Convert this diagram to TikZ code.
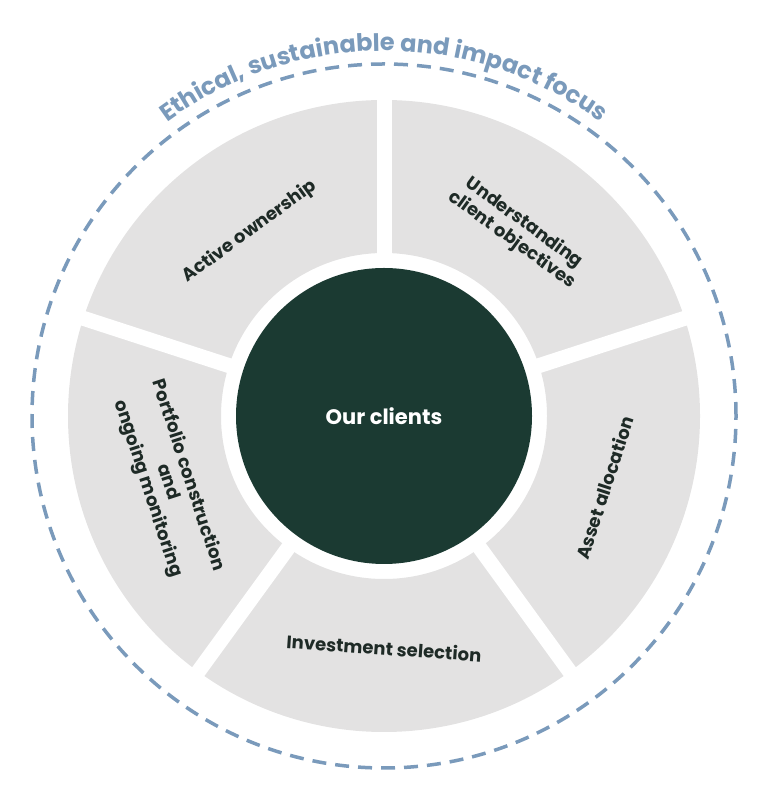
\documentclass[tikz,border=0pt]{standalone}
\usepackage{fontspec}
\setmainfont{Poppins}
\usetikzlibrary{decorations.text,calc}
\definecolor{segfill}{HTML}{E3E2E2}
\definecolor{core}{HTML}{1B3A32}
\definecolor{ring}{HTML}{7A9ABB}
\definecolor{segtext}{HTML}{1E2A26}
\tikzset{
  seglabel/.style={font=\fontsize{18}{21}\selectfont\bfseries, text=segtext, align=center},
}
\begin{document}
\begin{tikzpicture}[x=1pt,y=1pt]
\useasboundingbox (0,0) rectangle (768,797);
\coordinate (c) at (384,381);
% ring
\fill[segfill,even odd rule] (c) circle[radius=316] (c) circle[radius=163];
\foreach \a in {90,18,-54,-126,162}{
  \draw[white,line width=15] (c) -- ++(\a:330);
}
% core
\node[circle,fill=core,minimum size=296,inner sep=0,text=white,font=\fontsize{21}{22}\selectfont\bfseries] (core) at (c) {Our clients};
% dashed circle
\draw[ring,line width=3.5,dash pattern=on 14 off 9] (c) circle[radius=352];
% curved title
\path[decorate,decoration={text along path,text align=center,text color=ring,
  text={|\fontsize{24}{26}\selectfont\bfseries|Ethical{,} sustainable and impact focus}}]
  ($(c)+(152:365)$) arc[start angle=152,end angle=28,radius=365];
% labels
\node[seglabel,rotate=36] (ao) at ($(c)+(126:228)$) {Active ownership};
\node[seglabel,rotate=-36] (uc) at ($(c)+(54:228)$) {Understanding\\client objectives};
\node[seglabel,rotate=72] (aa) at ($(c)+(-18:232)$) {Asset allocation};
\node[seglabel,rotate=-4] (is) at ($(c)+(-90:232)$) {Investment selection};
\node[seglabel,rotate=-72] (pc) at ($(c)+(197:226)$) {Portfolio construction\\and\\ongoing monitoring};
\end{tikzpicture}
\end{document}
